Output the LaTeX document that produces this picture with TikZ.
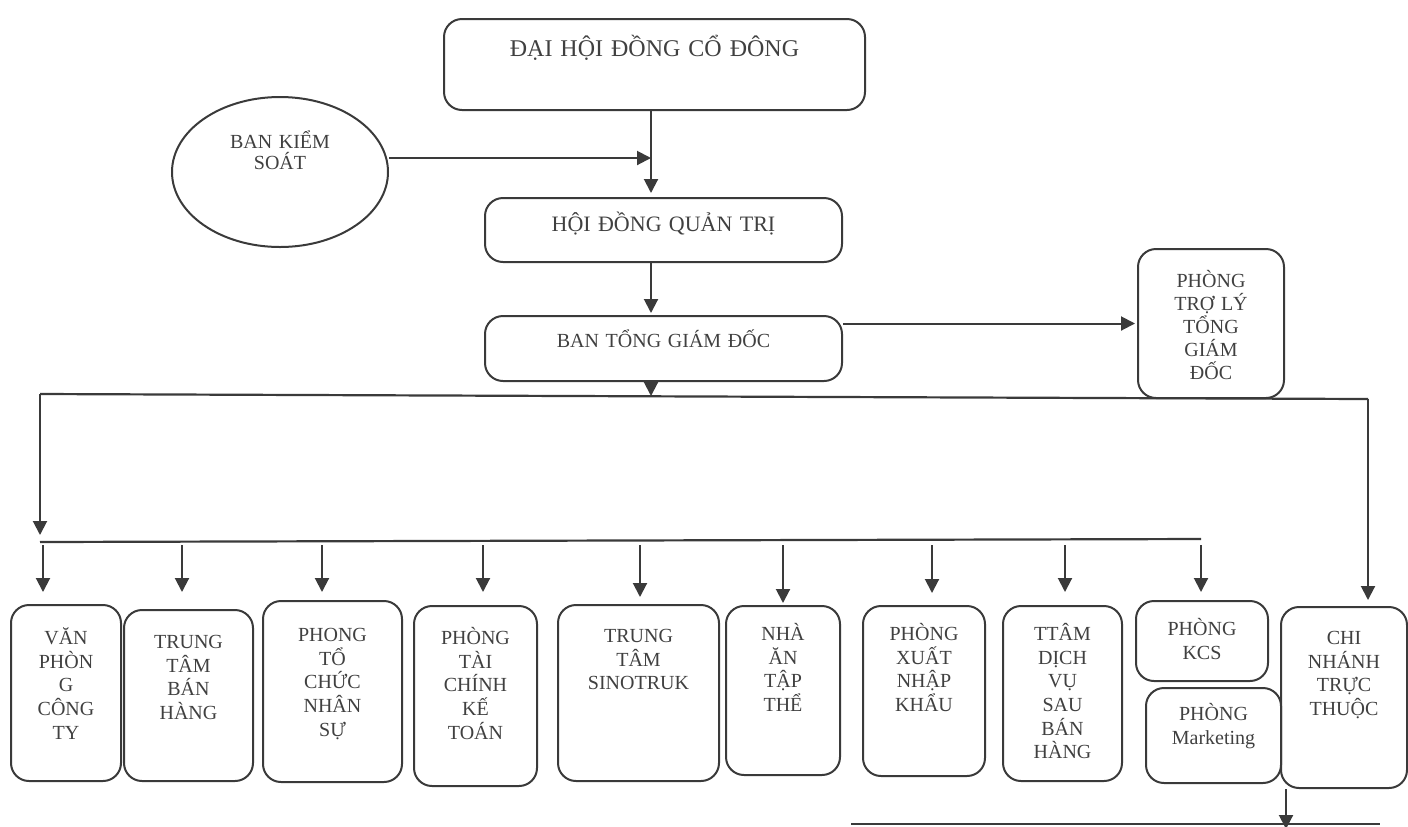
\documentclass[tikz,border=0pt]{standalone}
\usepackage{fontspec}
\setmainfont{Liberation Serif}
\usetikzlibrary{arrows.meta,shapes.geometric}
\definecolor{inkgray}{HTML}{3A3A3A}
\definecolor{textgray}{HTML}{404040}

\begin{document}
\begin{tikzpicture}[x=0.5pt,y=-0.5pt,
  conn/.style={draw=inkgray, line width=1pt, -{Triangle[length=7pt,width=7pt]}},
  bus/.style={draw=inkgray, line width=1.1pt},
  unit/.style={draw=inkgray, line width=1pt, rounded corners=9pt, anchor=north west, inner sep=0pt, align=center, text=textgray, font=\fontsize{10}{11.8}\selectfont}]
\useasboundingbox (0,0) rectangle (1408,826);
\node[unit, text width=210.5pt, text height=18.5pt, text depth=27pt, font=\fontsize{12}{14}\selectfont] (dhdcd) at (443,18) {ĐẠI HỘI ĐỒNG CỔ ĐÔNG};
\node[draw=inkgray, line width=1pt, ellipse, minimum width=108pt, minimum height=75pt, inner sep=0pt, text width=60pt, align=center, text height=10pt, text depth=33.4pt, text=textgray, font=\fontsize{10}{10.5}\selectfont] (bks) at (280,172) {BAN KIỂM\\SOÁT};
\node[unit, text width=178.5pt, text height=16.7pt, text depth=15.3pt, font=\fontsize{11}{13}\selectfont] (hdqt) at (484,197) {HỘI ĐỒNG QUẢN TRỊ};
\node[unit, text width=178.5pt, text height=15.8pt, text depth=16.7pt] (btgd) at (484,315) {BAN TỔNG GIÁM ĐỐC};
\node[unit, text width=73pt, text height=19.3pt, text depth=55.2pt, font=\fontsize{10}{11.5}\selectfont] (ptl) at (1137,248) {PHÒNG\\TRỢ LÝ\\TỔNG\\GIÁM\\ĐỐC};

\node[unit, text width=55pt, text height=19.8pt, text depth=68.2pt] (vp) at (10,604) {VĂN\\PHÒN\\G\\CÔNG\\TY};
\node[unit, text width=64.5pt, text height=19.3pt, text depth=66.2pt] (ttbh) at (123,609) {TRUNG\\TÂM\\BÁN\\HÀNG};
\node[unit, text width=69.5pt, text height=20.3pt, text depth=70.2pt] (ptc) at (262,600) {PHONG\\TỔ\\CHỨC\\NHÂN\\SỰ};
\node[unit, text width=61.5pt, text height=19.3pt, text depth=70.7pt] (ptckt) at (413,605) {PHÒNG\\TÀI\\CHÍNH\\KẾ\\TOÁN};
\node[unit, text width=80.5pt, text height=18.8pt, text depth=69.2pt] (sino) at (557,604) {TRUNG\\TÂM\\SINOTRUK};
\node[unit, text width=57pt, text height=17.3pt, text depth=67.2pt] (nha) at (725,605) {NHÀ\\ĂN\\TẬP\\THỂ};
\node[unit, text width=61pt, text height=17.3pt, text depth=67.7pt] (xnk) at (862,605) {PHÒNG\\XUẤT\\NHẬP\\KHẨU};
\node[unit, text width=59.5pt, text height=17.3pt, text depth=70.2pt] (dvsbh) at (1002,605) {TTÂM\\DỊCH\\VỤ\\SAU\\BÁN\\HÀNG};
\node[unit, text width=66pt, text height=17.3pt, text depth=22.7pt] (kcs) at (1135,600) {PHÒNG\\KCS};
\node[unit, text width=67.5pt, text height=16.3pt, text depth=31.2pt] (mkt) at (1145,687) {PHÒNG\\Marketing};
\node[unit, text width=63pt, text height=18.8pt, text depth=71.7pt] (cntt) at (1280,606) {CHI\\NHÁNH\\TRỰC\\THUỘC};

\coordinate (j1) at (651,158);
\coordinate (busL) at (40,394);
\coordinate (busR) at (1368,399);
\coordinate (busM) at (651,396);
\coordinate (subL) at (40,542);
\coordinate (subR) at (1201,539);
\coordinate (cut) at (1286,829);
\coordinate (lowL) at (851,824);
\coordinate (lowR) at (1380,824);

\draw[bus] (j1 |- dhdcd.south) -- (j1);
\draw[conn, shorten >=2pt] (j1) -- (j1 |- hdqt.north);
\draw[conn] (bks.east |- j1) -- (j1);
\draw[conn, shorten >=1pt] (j1 |- hdqt.south) -- (j1 |- btgd.north);
\draw[conn, shorten >=1pt] (ptl.west -| btgd.east) -- (ptl.west);
\draw[conn] (j1 |- btgd.south) -- (busM);
\draw[bus] (busL) -- (busR);
\draw[conn] (busL) -- ([yshift=3.5pt]subL);
\draw[conn, shorten >=3pt] (busR) -- (busR |- cntt.north);
\draw[bus] (subL) -- (subR);
\foreach \x/\b/\g in {43/vp/6pt, 182/ttbh/8.5pt, 322/ptc/4pt, 483/ptckt/6.5pt, 640/sino/3.5pt, 783/nha/1pt, 932/xnk/6pt, 1065/dvsbh/6.5pt, 1201/kcs/4pt}
  {\coordinate (top) at (\x,545);
   \draw[conn, shorten >=\g] (top) -- (top |- \b.north);}
\draw[conn] (cut |- cntt.south) -- (cut);
\draw[bus] (lowL) -- (lowR);
\end{tikzpicture}
\end{document}
